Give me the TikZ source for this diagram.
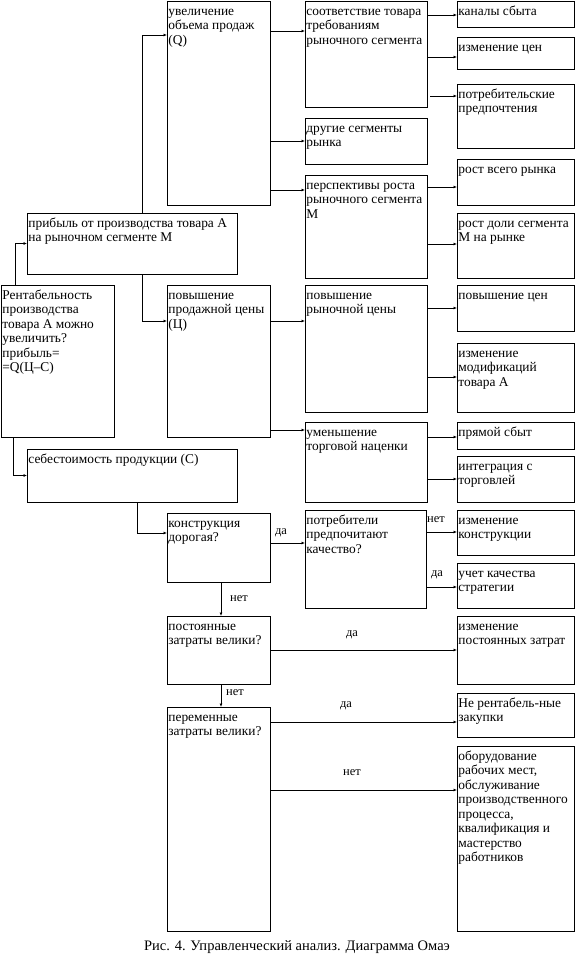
\documentclass[tikz,border=0pt]{standalone}
\usepackage{fontspec}
\setmainfont{Liberation Serif}
\usetikzlibrary{arrows.meta,calc}
\tikzset{
  box/.style={draw, line width=0.8pt, inner sep=0pt, outer sep=0pt},
  txt/.style={inner sep=0pt, align=left, anchor=north west, font=\fontsize{13.4}{14.5}\selectfont},
  arr/.style={line width=0.8pt, -{Latex[length=3.5pt,width=3pt]}},
  lbl/.style={inner sep=0pt, font=\fontsize{12.5}{14}\selectfont},
}
\newcommand{\bx}[6]{%
  \node[box, minimum width={#4-#2}, minimum height={#5-#3}] (#1) at ({(#2+#4)/2},{(#3+#5)/2}) {};
  \node[txt] (#1t) at ([shift={(1.2pt,-3.8pt)}]#1.north west) {\strut #6};
}
\newcommand{\hc}[3]{%
  \coordinate (tmp) at ([yshift=-#3pt]#2.north west);
  \draw[arr] (#1.east |- tmp) -- (tmp);
}
\begin{document}
\begin{tikzpicture}[x=1pt,y=-1pt]
\useasboundingbox (0,0) rectangle (575,963);
\fill[white] (0,0) rectangle (575,963);

% column 1-2
\bx{Q}{167}{1}{270}{205}{увеличение\\объема продаж\\(Q)}
\bx{profit}{27}{213}{237}{274}{прибыль от производства товара А\\на рыночном сегменте М}
\bx{rent}{1}{285}{114}{437}{Рентабельность\\производства\\товара А можно\\увеличить?\\прибыль=\\=Q(Ц–С)}
\bx{price}{167}{285}{270}{437}{повышение\\продажной цены\\(Ц)}
\bx{C}{27}{449}{237}{502}{себестоимость продукции (С)}
\bx{konstr}{167}{513}{270}{582}{конструкция\\дорогая?}
\bx{post}{167}{616}{270}{684}{постоянные\\затраты велики?}
\bx{perem}{167}{707}{270}{931}{переменные\\затраты велики?}

% column 3
\bx{sootv}{305}{1}{427}{107}{соответствие товара\\требованиям\\рыночного сегмента}
\bx{drugie}{305}{118}{427}{164}{другие сегменты\\рынка}
\bx{persp}{305}{175}{427}{278}{перспективы роста\\рыночного сегмента\\М}
\bx{rynCena}{305}{285}{427}{412}{повышение\\рыночной цены}
\bx{umen}{305}{422}{427}{502}{уменьшение\\торговой наценки}
\bx{potreb}{305}{510}{426}{608}{потребители\\предпочитают\\качество?}

% column 4
\bx{kanaly}{457}{1}{574}{27}{каналы сбыта}
\bx{izmCen}{457}{37}{574}{69}{изменение цен}
\bx{potrPref}{457}{84}{574}{148}{потребительские\\предпочтения}
\bx{rostVsego}{457}{159}{574}{205}{рост всего рынка}
\bx{rostDoli}{457}{213}{574}{278}{рост доли сегмента\\М на рынке}
\bx{povCen}{457}{285}{574}{331}{повышение цен}
\bx{izmMod}{457}{343}{574}{412}{изменение\\модификаций\\товара А}
\bx{pryamoy}{457}{422}{574}{449}{прямой сбыт}
\bx{integr}{457}{456}{574}{502}{интеграция с\\торговлей}
\bx{izmKonstr}{457}{510}{574}{555}{изменение\\конструкции}
\bx{uchet}{457}{563}{574}{608}{учет качества\\стратегии}
\bx{izmPost}{457}{616}{574}{684}{изменение\\постоянных затрат}
\bx{neRent}{457}{693}{574}{737}{Не рентабель-ные\\закупки}
\bx{oborud}{457}{746}{574}{931}{оборудование\\рабочих мест,\\обслуживание\\производственного\\процесса,\\квалификация и\\мастерство\\работников}

% elbow connectors
\draw[arr] ([xshift=14pt]rent.north west) |- (profit.west);
\draw[arr] ([xshift=115pt]profit.north west) |- ([yshift=-34pt]Q.north west);
\draw[arr] ([xshift=115pt]profit.south west) |- ([yshift=-36pt]price.north west);
\draw[arr] ([xshift=12pt]rent.south west) |- (C.west);
\draw[arr] ([xshift=110pt]C.south west) |- ([yshift=-20pt]konstr.north west);

% horizontal connectors
\hc{Q}{sootv}{30}
\hc{Q}{drugie}{23}
\hc{Q}{persp}{15}
\hc{sootv}{kanaly}{14}
\hc{sootv}{izmCen}{20}
\coordinate (pp) at ([yshift=-12pt]potrPref.north west);
\draw[arr] ([xshift=3pt]sootv.east |- pp) -- (pp);
\hc{persp}{rostVsego}{28}
\hc{persp}{rostDoli}{31}
\hc{price}{rynCena}{36}
\hc{price}{umen}{8}
\hc{rynCena}{povCen}{23}
\hc{rynCena}{izmMod}{34}
\hc{umen}{pryamoy}{15}
\hc{umen}{integr}{23}
\hc{konstr}{potreb}{33}
\hc{potreb}{izmKonstr}{22}
\hc{potreb}{uchet}{24}
\hc{post}{izmPost}{34}
\hc{perem}{neRent}{29}
\hc{perem}{oborud}{44}

% vertical connectors
\draw[arr] ([xshift=54pt]konstr.south west) -- ([xshift=54pt]post.north west);
\draw[arr] ([xshift=54pt]post.south west) -- ([xshift=54pt]perem.north west);

% labels
\node[lbl] (l1) at (281,533) {да};
\node[lbl] (l2) at (239,599) {нет};
\node[lbl] (l3) at (436,520) {нет};
\node[lbl] (l4) at (437,575) {да};
\node[lbl] (l5) at (352,635) {да};
\node[lbl] (l6) at (235,693) {нет};
\node[lbl] (l7) at (346,706) {да};
\node[lbl] (l8) at (352,773) {нет};

\node[inner sep=0pt, font=\fontsize{14.5}{16}\selectfont] (cap) at (297,947) {Рис. 4. Управленческий анализ. Диаграмма Омаэ};
\end{tikzpicture}
\end{document}
